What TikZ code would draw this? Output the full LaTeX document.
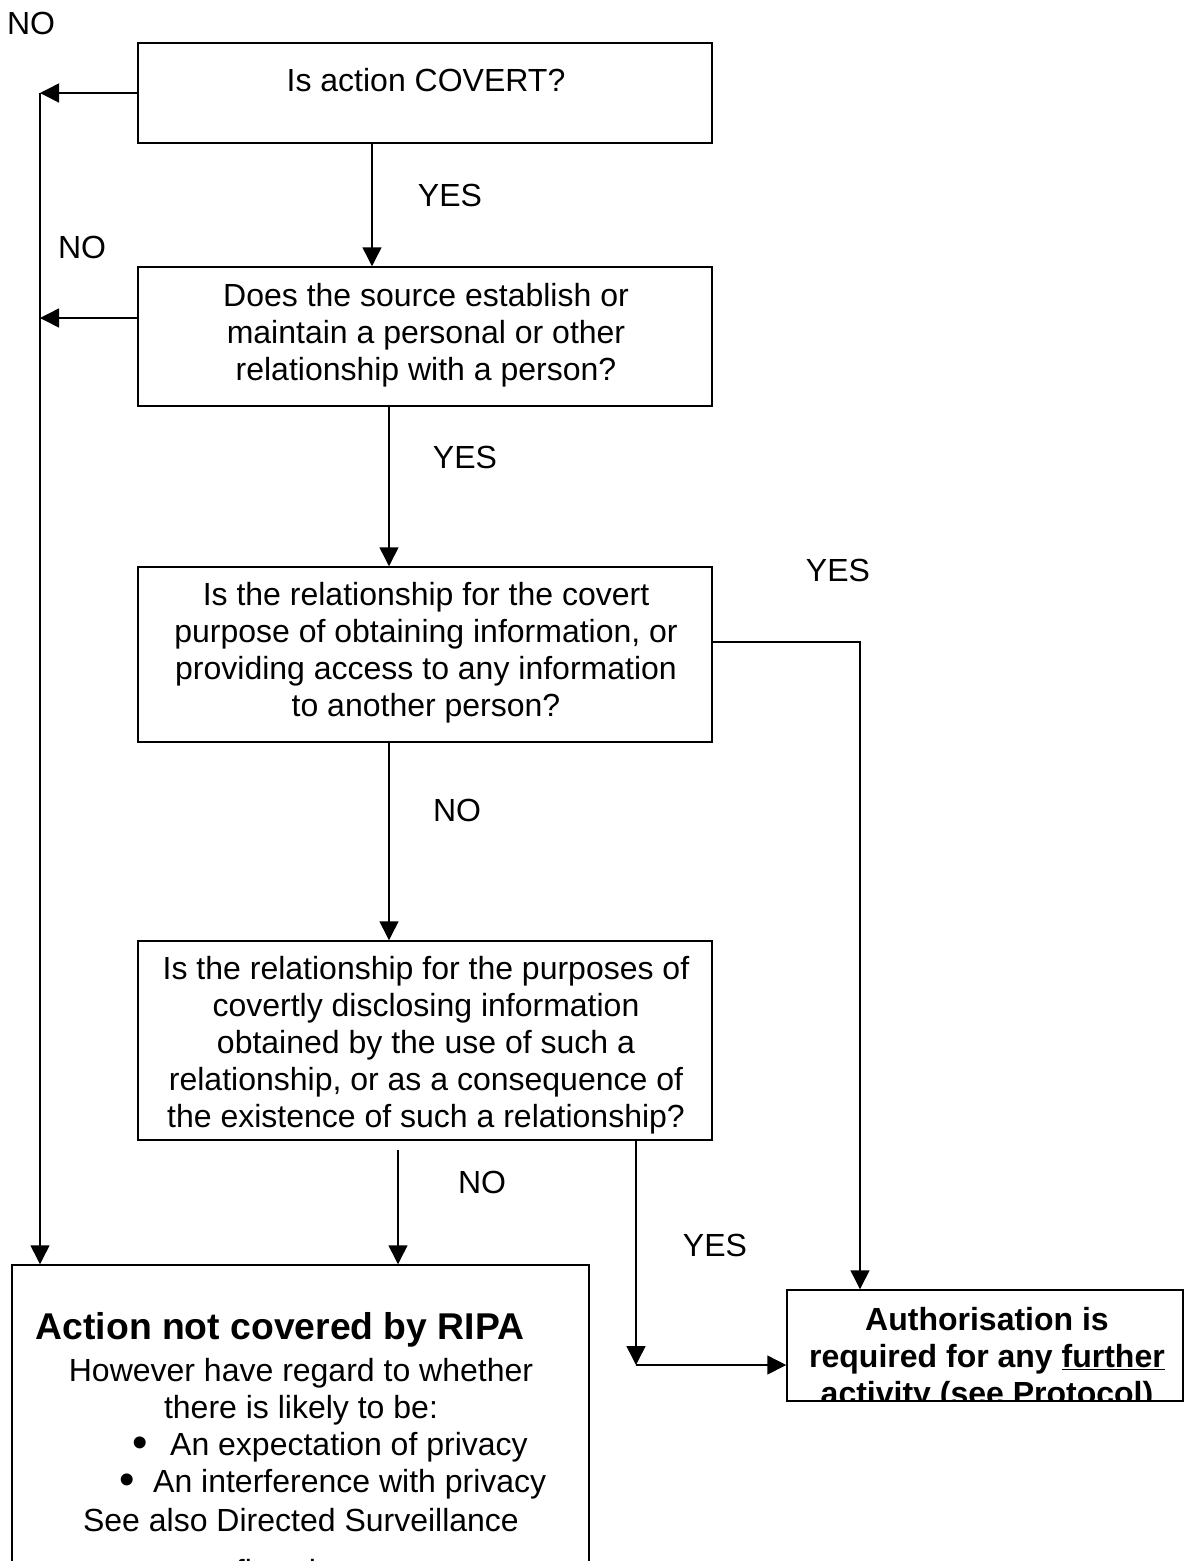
\documentclass[tikz,border=0pt]{standalone}
\usepackage{fontspec}
\setmainfont{Liberation Sans}
\usetikzlibrary{arrows.meta}
\newcommand\myfs{\fontsize{32}{37}\selectfont}
\newcommand\myhead{\fontsize{37.3}{42}\selectfont}
\newcommand\mybul{\fontsize{44}{44}\selectfont}
\begin{document}
\begin{tikzpicture}[x=1pt,y=-1pt,
  box/.style={draw,line width=1.5pt,rectangle,inner sep=0pt},
  arr/.style={line width=1.5pt,-{Triangle[length=19pt,width=19pt]}},
  txt/.style={align=center,inner sep=0pt,font=\myfs},
  lbl/.style={inner sep=0pt,font=\myfs},
  bul/.style={inner sep=0pt,font=\mybul}]
\useasboundingbox[fill=white] (0,0) rectangle (1188,1561);

% boxes
\node[box,minimum width=574pt,minimum height=100pt] (b1) at (425,93) {};
\node[box,minimum width=574pt,minimum height=139pt] (b2) at (425,336.5) {};
\node[box,minimum width=574pt,minimum height=175pt] (b3) at (425,654.5) {};
\node[box,minimum width=574pt,minimum height=199pt] (b4) at (425,1040.5) {};
\node[box,minimum width=396pt,minimum height=111pt] (b5) at (985,1345.5) {};
\node[box,minimum width=577pt,minimum height=360pt] (b6) at (300.5,1445) {};

% box texts
\node[txt] (t1) at (426,80) {Is action COVERT?};
\node[txt] (t2) at (426,335) {Does the source establish or\\maintain a personal or other\\relationship with a person?};
\node[txt] (t3) at (426,653) {Is the relationship for the covert\\purpose of obtaining information, or\\providing access to any information\\to another person?};
\begin{scope}
  \clip (b4.south west) rectangle (b4.north east);
  \node[txt] (t4) at (426,1045) {Is the relationship for the purposes of\\covertly disclosing information\\obtained by the use of such a\\relationship, or as a consequence of\\the existence of such a relationship?};
\end{scope}
\begin{scope}
  \clip (b5.south west) rectangle (b5.north east);
  \node[txt,font=\myfs\bfseries] (t5) at (987,1359) {Authorisation is\\required for any \underline{further}\\activity (see Protocol)};
\end{scope}
\node[lbl,font=\myhead\bfseries] (h6) at (280,1330) {Action not covered by RIPA};
\node[txt] (t6) at (301,1392) {However have regard to whether\\there is likely to be:};
\node[bul] (bu1) at (140,1447) {•};
\node[lbl,anchor=west] (e1) at (170,1447) {An expectation of privacy};
\node[bul] (bu2) at (127,1484) {•};
\node[lbl,anchor=west] (e2) at (153,1484) {An interference with privacy};
\node[txt] (t7) at (301,1520) {See also Directed Surveillance};
\node[lbl,anchor=base] (t8) at (300,1582) {flowchart};

% labels
\node[lbl] (n0) at (31,23) {NO};
\node[lbl] (y1) at (450,195) {YES};
\node[lbl] (n1) at (82,247) {NO};
\node[lbl] (y2) at (465,457) {YES};
\node[lbl] (y3) at (838,570) {YES};
\node[lbl] (n2) at (457,810) {NO};
\node[lbl] (n3) at (482,1182) {NO};
\node[lbl] (y4) at (715,1245) {YES};

% connectors
\coordinate (L1) at (40,93);
\coordinate (L2) at (40,318);
\draw[arr] (b1.west) -- (L1);
\draw[arr] (b2.west |- L2) -- (L2);
\draw[arr] (L1) -- (L1 |- b6.north);
\coordinate (X1) at (372,0);
\coordinate (X2) at (389,0);
\draw[arr] (b1.south -| X1) -- (b2.north -| X1);
\draw[arr] (b2.south -| X2) -- (b3.north -| X2);
\draw[arr] (b3.south -| X2) -- (b4.north -| X2);
\coordinate (R1) at (860,642);
\draw[arr] (b3.east |- R1) -- (R1) -- (R1 |- b5.north);
\coordinate (S1) at (398,1150);
\draw[arr] (S1) -- (S1 |- b6.north);
\coordinate (C1) at (636,1365);
\draw[arr] (b4.south -| C1) -- (C1);
\draw[arr] (C1) -- (b5.west |- C1);
\end{tikzpicture}
\end{document}
